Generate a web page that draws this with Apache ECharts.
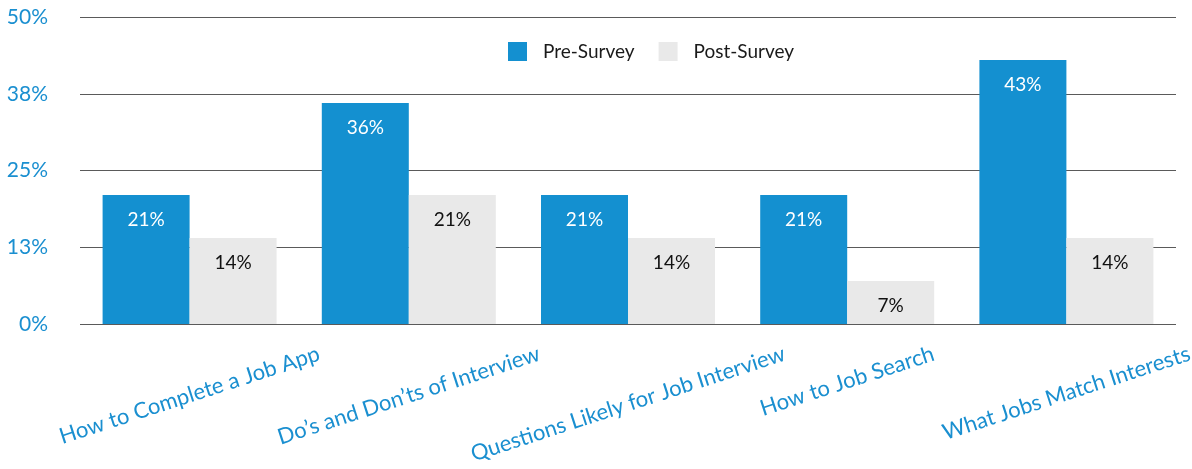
<!DOCTYPE html>
<html>
<head>
<meta charset="utf-8">
<script src="https://cdn.jsdelivr.net/npm/echarts@6/dist/echarts.min.js"></script>
<style>
html,body{margin:0;padding:0;background:#fff;}
#chart{width:1192px;height:469px;}
</style>
</head>
<body>
<div id="chart"></div>
<script>
var categories = ["How to Complete a Job App", "Do\u2019s and Don\u2019ts of Interview", "Questions Likely for Job Interview", "How to Job Search", "What Jobs Match Interests"];
var preSurvey = [21, 36, 21, 21, 43];
var postSurvey = [14, 21, 14, 7, 14];
var seriesNames = ["Pre-Survey", "Post-Survey"];

var FONT = "Lato";
var ROT = 18;
var LABEL_SIZE = 22;
var LABEL_COLOR = '#1a8fd0';

// keep the top edge of every rotated label at the same height, centred on its tick
var ctx = document.createElement('canvas').getContext('2d');
ctx.font = LABEL_SIZE + 'px ' + FONT;
var widths = categories.map(function (c) { return ctx.measureText(c).width; });
var minW = Math.min.apply(null, widths);
var rad = ROT * Math.PI / 180;
var H0 = 10;
var rich = { t: { fontFamily: FONT, fontSize: LABEL_SIZE, color: LABEL_COLOR } };
categories.forEach(function (c, i) {
  var delta = (widths[i] - minW) / 2 * Math.sin(rad);
  var H = H0 + 2 * delta * Math.cos(rad);
  var R = H * Math.tan(rad);
  rich['s' + i] = { fontSize: 1, lineHeight: H, height: H, width: 1 };
  rich['r' + i] = { fontSize: 1, width: R };
});

var chart = echarts.init(document.getElementById('chart'));
chart.setOption({
  animation: false,
  textStyle: { fontFamily: FONT },
  grid: { left: 80, right: 16, top: 17, bottom: 145, containLabel: false, outerBoundsMode: 'none' },
  legend: {
    left: 508, top: 42, padding: 0,
    itemWidth: 19, itemHeight: 19, itemGap: 24,
    icon: 'rect',
    textStyle: { fontFamily: FONT, fontSize: 19, color: '#1a1a1a', padding: [0, 0, 0, 11] },
    data: seriesNames
  },
  xAxis: {
    type: 'category',
    data: categories,
    axisLine: { show: false },
    axisTick: { show: false },
    axisLabel: {
      interval: 0,
      rotate: ROT,
      align: 'center',
      verticalAlign: 'middle',
      margin: 52,
      hideOverlap: false,
      fontFamily: FONT,
      fontSize: LABEL_SIZE,
      color: LABEL_COLOR,
      rich: rich,
      formatter: function (v, i) {
        return '{s' + i + '| }\n{t|' + v + '}{r' + i + '| }';
      }
    }
  },
  yAxis: {
    type: 'value',
    min: 0, max: 50, interval: 12.5,
    axisLine: { show: false },
    axisTick: { show: false },
    splitLine: { lineStyle: { color: '#5a5a5a', width: 1 } },
    axisLabel: {
      margin: 32,
      fontFamily: FONT,
      fontSize: 21,
      color: LABEL_COLOR,
      formatter: function (v) { return Math.round(v) + '%'; }
    }
  },
  series: [
    {
      name: seriesNames[0], type: 'bar', data: preSurvey,
      barWidth: 87, barGap: '0%',
      itemStyle: { color: '#1490d0' },
      label: {
        show: true, position: 'insideTop', distance: 15,
        color: '#fff', fontSize: 19, fontFamily: FONT,
        formatter: function (p) { return p.value + '%'; }
      }
    },
    {
      name: seriesNames[1], type: 'bar', data: postSurvey,
      barWidth: 87, barGap: '0%',
      itemStyle: { color: '#e9e9e9' },
      label: {
        show: true, position: 'insideTop', distance: 15,
        color: '#111', fontSize: 19, fontFamily: FONT,
        formatter: function (p) { return p.value + '%'; }
      }
    }
  ]
});
</script>
</body>
</html>
